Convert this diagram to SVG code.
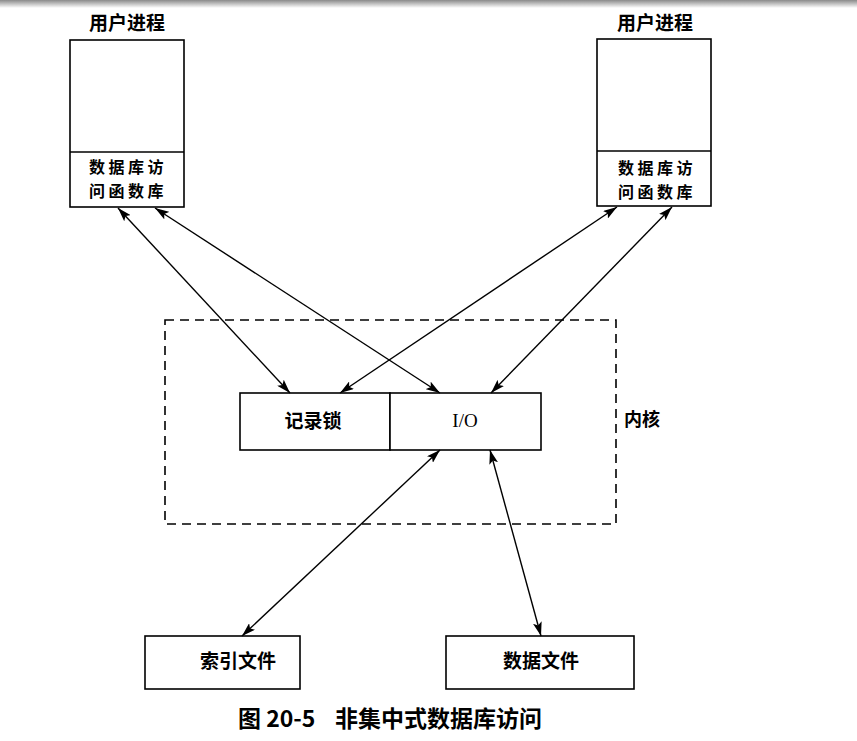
<svg xmlns="http://www.w3.org/2000/svg" width="857" height="741" viewBox="0 0 857 741">
<defs>
<linearGradient id="topshade" x1="0" y1="0" x2="0" y2="1">
<stop offset="0" stop-color="#8a8a8a"/>
<stop offset="1" stop-color="#ffffff"/>
</linearGradient>
<marker id="ah" viewBox="0 0 14 9" refX="14" refY="4.5" markerWidth="14" markerHeight="9" markerUnits="userSpaceOnUse" orient="auto-start-reverse">
<path d="M0,0 L14,4.5 L0,9 L3,4.5 Z" fill="#000"/>
</marker>
<style>
.box{fill:#fff;stroke:#000;stroke-width:1.6}
.ln{stroke:#000;stroke-width:1.5;fill:none}
.dash{fill:none;stroke:#000;stroke-width:1.6;stroke-dasharray:9 6}
.conn{stroke:#000;stroke-width:1.4;fill:none;marker-start:url(#ah);marker-end:url(#ah)}
.t{font-family:"Noto Sans CJK SC","Noto Sans CJK JP",sans-serif;font-weight:bold;fill:#000;text-anchor:middle}
.lib{font-size:16px;letter-spacing:3.5px}
.cap{font-family:"Noto Sans CJK SC","Noto Sans CJK JP",sans-serif;font-weight:bold;fill:#000;text-anchor:start;font-size:23px}
.io{font-family:"Liberation Serif",serif;fill:#000;text-anchor:middle;font-size:19px}
</style>
</defs>
<rect x="0" y="0" width="857" height="741" fill="#fff"/>
<rect x="0" y="0" width="857" height="8" fill="url(#topshade)"/>

<g id="user1">
<text class="t" x="127" y="30" font-size="19">用户进程</text>
<rect class="box" x="70" y="40" width="114" height="167"/>
<line class="ln" x1="70" y1="152" x2="184" y2="152"/>
<text class="t lib" x="128" y="173">数据库访</text>
<text class="t lib" x="128" y="196.5">问函数库</text>
</g>

<g id="user2">
<text class="t" x="655" y="30" font-size="19">用户进程</text>
<rect class="box" x="597" y="39" width="114" height="167"/>
<line class="ln" x1="597" y1="151" x2="711" y2="151"/>
<text class="t lib" x="657" y="174">数据库访</text>
<text class="t lib" x="657" y="197.5">问函数库</text>
</g>

<g id="kernel">
<rect class="dash" x="165" y="320" width="451" height="204"/>
<text class="t" x="642" y="426" font-size="18">内核</text>
</g>

<g id="reclock">
<rect class="box" x="240" y="393" width="150" height="57"/>
<text class="t" x="313" y="428" font-size="19">记录锁</text>
</g>

<g id="io">
<rect class="box" x="390" y="393" width="151" height="57"/>
<text class="io" x="465" y="427">I/O</text>
</g>

<g id="indexfile">
<rect class="box" x="145" y="636" width="155" height="53"/>
<text class="t" x="238" y="668" font-size="19">索引文件</text>
</g>

<g id="datafile">
<rect class="box" x="446" y="636" width="188" height="53"/>
<text class="t" x="541" y="668" font-size="19">数据文件</text>
</g>

<g id="connectors">
<line class="conn" x1="118" y1="208" x2="290" y2="393"/>
<line class="conn" x1="155" y1="208" x2="440" y2="393"/>
<line class="conn" x1="617" y1="207" x2="340" y2="393"/>
<line class="conn" x1="672" y1="207" x2="491" y2="393"/>
<line class="conn" x1="440" y1="450" x2="242" y2="636"/>
<line class="conn" x1="490" y1="450" x2="541" y2="636"/>
</g>

<g id="caption">
<text class="cap" x="238" y="727">图 20-5</text>
<text class="cap" x="335" y="727">非集中式数据库访问</text>
</g>
</svg>
